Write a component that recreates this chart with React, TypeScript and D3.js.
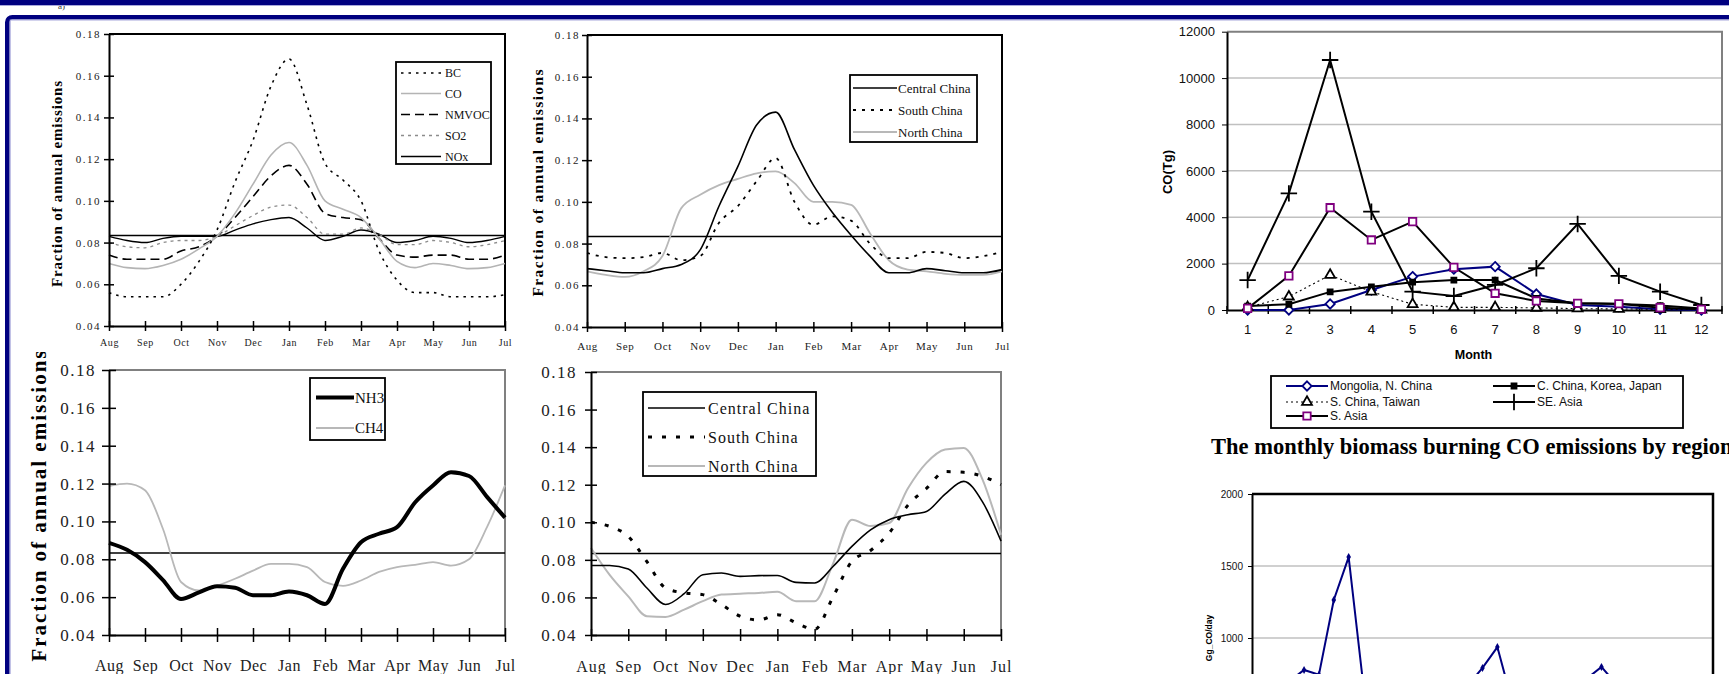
import * as d3 from "d3";
import React, { useEffect, useRef } from "react";

const WIDTH = 1729;
const HEIGHT = 674;
const SERIF = "'Liberation Serif', 'Times New Roman', serif";
const SANS = "'Liberation Sans', Arial, sans-serif";

// seasonal profiles, read twice a month from Aug to Jul
const MONTHS = ["Aug", "Sep", "Oct", "Nov", "Dec", "Jan", "Feb", "Mar", "Apr", "May", "Jun", "Jul"];
const STEPS = d3.range(0, 11.5, 0.5);
const FRACTION_TICKS = [0.04, 0.06, 0.08, 0.1, 0.12, 0.14, 0.16, 0.18];
const EVEN_SHARE = 1 / 12;

const BC = [0.056, 0.054, 0.054, 0.054, 0.06, 0.071, 0.086, 0.109, 0.129, 0.155, 0.168, 0.146, 0.118, 0.11, 0.1, 0.076, 0.062, 0.056, 0.056, 0.054, 0.054, 0.054, 0.055];
const CO = [0.07, 0.068, 0.0675, 0.069, 0.072, 0.077, 0.083, 0.094, 0.108, 0.122, 0.128, 0.117, 0.1, 0.096, 0.092, 0.082, 0.071, 0.068, 0.07, 0.069, 0.0675, 0.068, 0.07];
const NMVOC = [0.074, 0.072, 0.072, 0.072, 0.076, 0.078, 0.083, 0.092, 0.102, 0.112, 0.117, 0.108, 0.094, 0.092, 0.091, 0.082, 0.074, 0.073, 0.074, 0.074, 0.072, 0.072, 0.074];
const SO2 = [0.08, 0.078, 0.0775, 0.08, 0.081, 0.081, 0.083, 0.088, 0.093, 0.097, 0.098, 0.092, 0.084, 0.084, 0.087, 0.084, 0.079, 0.079, 0.081, 0.08, 0.078, 0.079, 0.081];
const NOX = [0.083, 0.081, 0.08, 0.082, 0.083, 0.083, 0.083, 0.086, 0.089, 0.091, 0.092, 0.087, 0.081, 0.083, 0.086, 0.084, 0.08, 0.081, 0.083, 0.082, 0.08, 0.081, 0.083];

const CENTRAL_HEATING = [0.068, 0.067, 0.066, 0.066, 0.068, 0.07, 0.077, 0.098, 0.117, 0.137, 0.143, 0.125, 0.108, 0.095, 0.084, 0.074, 0.066, 0.066, 0.068, 0.067, 0.066, 0.066, 0.0675];
const SOUTH_HEATING = [0.0755, 0.0735, 0.073, 0.0735, 0.0755, 0.072, 0.074, 0.09, 0.098, 0.11, 0.121, 0.1, 0.089, 0.093, 0.091, 0.08, 0.073, 0.073, 0.076, 0.0755, 0.073, 0.074, 0.076];
const NORTH_HEATING = [0.0667, 0.065, 0.064, 0.0667, 0.074, 0.097, 0.1034, 0.108, 0.111, 0.1137, 0.1146, 0.109, 0.1, 0.1, 0.0986, 0.085, 0.072, 0.0675, 0.0667, 0.0655, 0.065, 0.065, 0.0667];

const NH3 = [0.0887, 0.085, 0.0785, 0.069, 0.059, 0.0625, 0.0658, 0.065, 0.061, 0.061, 0.063, 0.061, 0.0564, 0.075, 0.089, 0.0935, 0.097, 0.11, 0.119, 0.126, 0.124, 0.113, 0.102];
const CH4 = [0.1187, 0.12, 0.1165, 0.096, 0.068, 0.0635, 0.066, 0.0697, 0.074, 0.0776, 0.0776, 0.0759, 0.068, 0.066, 0.0688, 0.0733, 0.0759, 0.077, 0.0785, 0.0767, 0.08, 0.097, 0.119];

const CENTRAL_FARMING = [0.077, 0.077, 0.0751, 0.065, 0.0562, 0.062, 0.0721, 0.073, 0.0712, 0.0716, 0.0717, 0.068, 0.0677, 0.0766, 0.0872, 0.096, 0.1014, 0.104, 0.1058, 0.115, 0.1218, 0.111, 0.09];
const SOUTH_FARMING = [0.1, 0.0978, 0.0925, 0.079, 0.065, 0.0624, 0.0615, 0.0562, 0.05, 0.048, 0.0508, 0.0465, 0.043, 0.0606, 0.0792, 0.085, 0.0943, 0.109, 0.118, 0.127, 0.1266, 0.1245, 0.12];
const NORTH_FARMING = [0.0863, 0.072, 0.0606, 0.05, 0.0496, 0.0535, 0.058, 0.0615, 0.062, 0.0624, 0.063, 0.058, 0.058, 0.0783, 0.1014, 0.098, 0.0996, 0.118, 0.1316, 0.1387, 0.1396, 0.123, 0.0934];

// biomass burning CO by region (month 1..12)
const REGION_MONTHS = [1, 2, 3, 4, 5, 6, 7, 8, 9, 10, 11, 12];
const CO_TICKS = [0, 2000, 4000, 6000, 8000, 10000, 12000];
const MONGOLIA = [0, 0, 260, 860, 1440, 1760, 1870, 690, 215, 145, 30, 0];
const C_CHINA = [170, 245, 780, 1000, 1200, 1290, 1290, 500, 290, 260, 190, 60];
const S_CHINA = [115, 575, 1510, 790, 245, 115, 115, 90, 60, 45, 30, 15];
const SE_ASIA = [1290, 5030, 10780, 4240, 790, 600, 1080, 1800, 3710, 1470, 790, 215];
const S_ASIA = [70, 1470, 4410, 3020, 3810, 1840, 720, 390, 290, 270, 100, 30];

// daily CO (only the upper part is visible on the slide)
const DAYS = d3.range(1, 32);
const DAILY_TICKS = [1000, 1500, 2000];
const DAILY_CO = [600, 650, 700, 778, 745, 1264, 1562, 660, 520, 480, 450, 470, 500, 560, 670, 792, 937, 553, 480, 460, 500, 600, 717, 799, 680, 560, 500, 450, 420, 400, 380];

const symbolOr = (name, fallback) => (d3 as any)[name] || fallback;

const SEASON_PANELS = [
    {
        left: 109, right: 505, top: 34, bottom: 326, frame: "#000",
        tick: 5, yPad: 3, tickFont: 11, tickSpacing: 1.5,
        monthFont: 10, monthSpacing: 0.6, monthBaseline: 346,
        title: { x: 57, cy: 184, length: 206, font: 15 },
        legend: { box: [396, 62, 95, 102], line: [401, 441], text: 445, rows: [73, 93.5, 114.5, 135.5, 156.5], font: 12, spacing: 0 },
        series: [
            { name: "BC", values: BC, stroke: "#000", width: 1.6, dash: "2.5,5" },
            { name: "CO", values: CO, stroke: "#b4b4b4", width: 1.6 },
            { name: "NMVOC", values: NMVOC, stroke: "#000", width: 1.6, dash: "9,5" },
            { name: "SO2", values: SO2, stroke: "#8c8c8c", width: 1.3, dash: "3,4" },
            { name: "NOx", values: NOX, stroke: "#000", width: 1.4 },
        ],
    },
    {
        left: 587, right: 1002, top: 35, bottom: 327, frame: "#000",
        tick: 5, yPad: 2, tickFont: 11, tickSpacing: 1.5,
        monthFont: 11, monthSpacing: 0.6, monthBaseline: 350,
        title: { x: 538, cy: 183, length: 227, font: 15.5 },
        legend: { box: [850, 75, 127, 67], line: [853, 897], text: 898, rows: [88, 110, 132], font: 13, spacing: 0 },
        series: [
            { name: "Central China", values: CENTRAL_HEATING, stroke: "#000", width: 1.6 },
            { name: "South China", values: SOUTH_HEATING, stroke: "#000", width: 1.8, dash: "3,6" },
            { name: "North China", values: NORTH_HEATING, stroke: "#b8b8b8", width: 1.8 },
        ],
    },
    {
        left: 109, right: 505, top: 370, bottom: 635, frame: "#808080",
        tick: 7, yPad: 6, tickFont: 17, tickSpacing: 1.5,
        monthFont: 16, monthSpacing: 0.5, monthBaseline: 671,
        title: { x: 39, cy: 506, length: 311, font: 21, clipTop: 352 },
        legend: { box: [310, 378, 75, 62], line: [316, 354], text: 355, rows: [397.5, 428], font: 15, spacing: 0 },
        series: [
            { name: "NH3", values: NH3, stroke: "#000", width: 4 },
            { name: "CH4", values: CH4, stroke: "#b8b8b8", width: 1.8 },
        ],
    },
    {
        left: 591, right: 1001, top: 372, bottom: 635, frame: "#808080",
        tick: 6, yPad: 8, tickFont: 17, tickSpacing: 1.5,
        monthFont: 16, monthSpacing: 1, monthBaseline: 672,
        title: null,
        legend: { box: [643, 392, 173, 84], line: [648, 705], text: 708, rows: [408, 437, 466], font: 16, spacing: 1 },
        series: [
            { name: "Central China", values: CENTRAL_FARMING, stroke: "#000", width: 1.6 },
            { name: "South China", values: SOUTH_FARMING, stroke: "#000", width: 3, dash: "4,10" },
            { name: "North China", values: NORTH_FARMING, stroke: "#b8b8b8", width: 2 },
        ],
    },
];

const REGION_SERIES = [
    { name: "Mongolia, N. China", values: MONGOLIA, stroke: "#000080", width: 2, symbol: symbolOr("symbolDiamond2", d3.symbolDiamond), size: 55, mark: "#000080", fill: "#fff" },
    { name: "C. China, Korea, Japan", values: C_CHINA, stroke: "#000", width: 2, symbol: d3.symbolSquare, size: 25, mark: "#000", fill: "#000" },
    { name: "S. China, Taiwan", values: S_CHINA, stroke: "#000", width: 1.1, dash: "2,3", symbol: symbolOr("symbolTriangle2", d3.symbolTriangle), size: 70, mark: "#000", fill: "#fff" },
    { name: "SE. Asia", values: SE_ASIA, stroke: "#000", width: 2, symbol: symbolOr("symbolPlus", d3.symbolCross), size: 90, mark: "#000", fill: "none" },
    { name: "S. Asia", values: S_ASIA, stroke: "#000", width: 2, symbol: symbolOr("symbolSquare2", d3.symbolSquare), size: 70, mark: "#800080", fill: "#fff" },
];

function drawSeasonPanel(svg, p, idx) {
    const g = svg.append("g");
    const x = d3.scaleLinear().domain([0, 11]).range([p.left, p.right]);
    const xMonth = d3.scalePoint().domain(MONTHS).range([p.left, p.right]);
    const y = d3.scaleLinear().domain([0.04, 0.18]).range([p.bottom, p.top]);

    g.append("path")
        .attr("d", `M${p.left},${p.top}H${p.right}V${p.bottom}`)
        .attr("fill", "none")
        .attr("stroke", p.frame)
        .attr("stroke-width", 2);

    g.append("line")
        .attr("x1", p.left)
        .attr("x2", p.right)
        .attr("y1", y(EVEN_SHARE))
        .attr("y2", y(EVEN_SHARE))
        .attr("stroke", "#000")
        .attr("stroke-width", 1.5);

    const line = d3
        .line()
        .x((_, i) => x(STEPS[i]))
        .y((d) => y(d))
        .curve(d3.curveMonotoneX);

    g.selectAll(null)
        .data(p.series.slice().reverse())
        .enter()
        .append("path")
        .attr("d", (d) => line(d.values))
        .attr("fill", "none")
        .attr("stroke", (d) => d.stroke)
        .attr("stroke-width", (d) => d.width)
        .attr("stroke-dasharray", (d) => d.dash || null)
        .attr("stroke-linejoin", "round");

    const yAxis = g
        .append("g")
        .attr("transform", `translate(${p.left},0)`)
        .call(
            d3.axisLeft(y).tickValues(FRACTION_TICKS).tickFormat(d3.format(".2f"))
                .tickSizeInner(p.tick).tickSizeOuter(0).tickPadding(p.yPad)
        );
    yAxis.attr("font-family", SERIF).attr("font-size", p.tickFont);
    yAxis.select(".domain").attr("stroke-width", 2);
    yAxis.selectAll(".tick line").attr("x1", p.tick).attr("stroke-width", 1.5);
    yAxis.selectAll("text").attr("fill", "#222").attr("letter-spacing", p.tickSpacing);

    const xAxis = g
        .append("g")
        .attr("transform", `translate(0,${p.bottom})`)
        .call(d3.axisBottom(xMonth).tickSizeInner(p.tick).tickSizeOuter(0));
    xAxis.attr("font-family", SERIF).attr("font-size", p.monthFont);
    xAxis.select(".domain").attr("stroke-width", 2);
    xAxis.selectAll(".tick line").attr("y1", -p.tick).attr("stroke-width", 1.5);
    xAxis.selectAll("text")
        .attr("y", p.monthBaseline - p.bottom)
        .attr("dy", 0)
        .attr("fill", "#222")
        .attr("letter-spacing", p.monthSpacing);

    if (p.title) {
        const holder = g.append("g");
        if (p.title.clipTop) {
            svg.select("defs")
                .append("clipPath")
                .attr("id", `title-clip-${idx}`)
                .append("rect")
                .attr("x", 0)
                .attr("y", p.title.clipTop)
                .attr("width", p.left)
                .attr("height", HEIGHT);
            holder.attr("clip-path", `url(#title-clip-${idx})`);
        }
        holder.append("text")
            .attr("transform", `translate(${p.title.x},${p.title.cy}) rotate(-90)`)
            .attr("text-anchor", "middle")
            .attr("dy", "0.35em")
            .attr("font-family", SERIF)
            .attr("font-weight", "bold")
            .attr("font-size", p.title.font)
            .attr("textLength", p.title.length)
            .attr("lengthAdjust", "spacing")
            .text("Fraction of annual emissions");
    }

    const lg = p.legend;
    g.append("rect")
        .attr("x", lg.box[0])
        .attr("y", lg.box[1])
        .attr("width", lg.box[2])
        .attr("height", lg.box[3])
        .attr("fill", "#fff")
        .attr("stroke", "#000")
        .attr("stroke-width", 1.8);

    const rows = g
        .selectAll(null)
        .data(p.series)
        .enter()
        .append("g")
        .attr("transform", (d, i) => `translate(0,${lg.rows[i]})`);
    rows.append("line")
        .attr("x1", lg.line[0])
        .attr("x2", lg.line[1])
        .attr("stroke", (d) => d.stroke)
        .attr("stroke-width", (d) => d.width)
        .attr("stroke-dasharray", (d) => d.dash || null);
    rows.append("text")
        .attr("x", lg.text)
        .attr("dy", "0.35em")
        .attr("font-family", SERIF)
        .attr("font-size", lg.font)
        .attr("letter-spacing", lg.spacing)
        .attr("fill", "#111")
        .text((d) => d.name);
}

function drawRegionPanel(svg) {
    const L = 1227, R = 1722, T = 31.7, B = 310;
    const g = svg.append("g");
    const x = d3.scaleBand().domain(REGION_MONTHS).range([L, R]);
    const cx = (m) => x(m) + x.bandwidth() / 2;
    const y = d3.scaleLinear().domain([0, 12000]).range([B, T]);

    g.selectAll(null)
        .data(CO_TICKS.slice(1, -1))
        .enter()
        .append("line")
        .attr("x1", L)
        .attr("x2", R)
        .attr("y1", (d) => y(d))
        .attr("y2", (d) => y(d))
        .attr("stroke", "#c0c0c0")
        .attr("stroke-width", 1.5);

    g.append("path")
        .attr("d", `M${L},${y(12000)}H${R}V${B}`)
        .attr("fill", "none")
        .attr("stroke", "#808080")
        .attr("stroke-width", 2);

    const yAxis = g
        .append("g")
        .attr("transform", `translate(${L},0)`)
        .call(d3.axisLeft(y).tickValues(CO_TICKS).tickFormat(d3.format("d")).tickSizeInner(5).tickSizeOuter(0).tickPadding(7));
    yAxis.attr("font-family", SANS).attr("font-size", 13);
    yAxis.select(".domain").attr("stroke-width", 2);
    yAxis.selectAll("text").attr("fill", "#111");

    const xAxis = g
        .append("g")
        .attr("transform", `translate(0,${B})`)
        .call(d3.axisBottom(x).tickSize(0).tickSizeOuter(0));
    xAxis.attr("font-family", SANS).attr("font-size", 13);
    xAxis.select(".domain").attr("stroke-width", 2);
    xAxis.selectAll("text").attr("y", 24).attr("dy", 0).attr("fill", "#111");
    xAxis.selectAll(null)
        .data(d3.range(0, REGION_MONTHS.length + 1))
        .enter()
        .append("line")
        .attr("x1", (i) => L + i * x.step())
        .attr("x2", (i) => L + i * x.step())
        .attr("y1", -4)
        .attr("y2", 4)
        .attr("stroke", "#000")
        .attr("stroke-width", 1.5);

    g.append("text")
        .attr("x", (L + R) / 2 - 1)
        .attr("y", 359)
        .attr("text-anchor", "middle")
        .attr("font-family", SANS)
        .attr("font-weight", "bold")
        .attr("font-size", 12.5)
        .text("Month");

    g.append("text")
        .attr("transform", `translate(1167,172) rotate(-90)`)
        .attr("text-anchor", "middle")
        .attr("dy", "0.35em")
        .attr("font-family", SANS)
        .attr("font-weight", "bold")
        .attr("font-size", 13)
        .text("CO(Tg)");

    const line = d3
        .line()
        .x((_, i) => cx(REGION_MONTHS[i]))
        .y((d) => y(d));

    g.selectAll(null)
        .data(REGION_SERIES)
        .enter()
        .append("path")
        .attr("d", (d) => line(d.values))
        .attr("fill", "none")
        .attr("stroke", (d) => d.stroke)
        .attr("stroke-width", (d) => d.width)
        .attr("stroke-dasharray", (d) => d.dash || null);

    REGION_SERIES.forEach((s) => {
        g.selectAll(null)
            .data(s.values)
            .enter()
            .append("path")
            .attr("transform", (d, i) => `translate(${cx(REGION_MONTHS[i])},${y(d)})`)
            .attr("d", d3.symbol(s.symbol, s.size)())
            .attr("fill", s.fill)
            .attr("stroke", s.mark)
            .attr("stroke-width", 1.8);
    });

    // legend
    const slots = [[1286, 386], [1493, 386], [1286, 402], [1493, 402], [1286, 416]];
    g.append("rect")
        .attr("x", 1271)
        .attr("y", 376)
        .attr("width", 412)
        .attr("height", 52)
        .attr("fill", "#fff")
        .attr("stroke", "#000")
        .attr("stroke-width", 1.8);
    const items = g
        .selectAll(null)
        .data(REGION_SERIES)
        .enter()
        .append("g")
        .attr("transform", (d, i) => `translate(${slots[i][0]},${slots[i][1]})`);
    items.append("line")
        .attr("x2", 42)
        .attr("stroke", (d) => d.stroke)
        .attr("stroke-width", (d) => d.width)
        .attr("stroke-dasharray", (d) => d.dash || null);
    items.append("path")
        .attr("transform", "translate(21,0)")
        .attr("d", (d) => d3.symbol(d.symbol, d.size)())
        .attr("fill", (d) => d.fill)
        .attr("stroke", (d) => d.mark)
        .attr("stroke-width", 1.8);
    items.append("text")
        .attr("x", 44)
        .attr("dy", "0.35em")
        .attr("font-family", SANS)
        .attr("font-size", 12)
        .attr("fill", "#111")
        .text((d) => d.name);

    // the slide cuts this caption at its right edge
    g.append("text")
        .attr("x", 1211)
        .attr("y", 454)
        .attr("font-family", SERIF)
        .attr("font-weight", "bold")
        .attr("font-size", 22.5)
        .text("The monthly biomass burning CO emissions by region");
}

function drawDailyPanel(svg) {
    const L = 1252, R = 1713, T = 494;
    const g = svg.append("g");
    const x = d3.scaleBand().domain(DAYS).range([L, R]);
    const cx = (d) => x(d) + x.bandwidth() / 2;
    const y = d3.scaleLinear().domain([0, 2000]).range([T + 288, T]);

    g.selectAll(null)
        .data(DAILY_TICKS.slice(0, -1))
        .enter()
        .append("line")
        .attr("x1", L)
        .attr("x2", R)
        .attr("y1", (d) => y(d))
        .attr("y2", (d) => y(d))
        .attr("stroke", "#c0c0c0")
        .attr("stroke-width", 1.5);

    g.append("path")
        .attr("d", `M${L},${T}H${R}V${HEIGHT + 10}`)
        .attr("fill", "none")
        .attr("stroke", "#000")
        .attr("stroke-width", 2.5);

    const yAxis = g
        .append("g")
        .attr("transform", `translate(${L},0)`)
        .call(d3.axisLeft(y).tickValues(DAILY_TICKS).tickFormat(d3.format("d")).tickSizeInner(4).tickSizeOuter(0).tickPadding(5));
    yAxis.attr("font-family", SANS).attr("font-size", 10);
    yAxis.select(".domain").attr("stroke-width", 2);
    yAxis.selectAll("text").attr("fill", "#111");

    g.append("text")
        .attr("transform", `translate(1209,638) rotate(-90)`)
        .attr("text-anchor", "middle")
        .attr("dy", "0.35em")
        .attr("font-family", SANS)
        .attr("font-weight", "bold")
        .attr("font-size", 8.5)
        .text("Gg_CO/day");

    const line = d3
        .line()
        .x((_, i) => cx(DAYS[i]))
        .y((d) => y(d));
    g.append("path")
        .attr("d", line(DAILY_CO))
        .attr("fill", "none")
        .attr("stroke", "#000080")
        .attr("stroke-width", 2);
    g.selectAll(null)
        .data(DAILY_CO)
        .enter()
        .append("path")
        .attr("transform", (d, i) => `translate(${cx(DAYS[i])},${y(d)})`)
        .attr("d", d3.symbol(d3.symbolDiamond, 18)())
        .attr("fill", "#000080");
}

function drawFrame(svg) {
    const navy = "#000080";
    const edge = "#a8a8dc";
    svg.append("rect").attr("x", 0).attr("y", 0).attr("width", WIDTH).attr("height", 5).attr("fill", navy);
    svg.append("line").attr("x1", 0).attr("x2", WIDTH).attr("y1", 5.5).attr("y2", 5.5).attr("stroke", edge);
    svg.append("rect")
        .attr("x", 7.3)
        .attr("y", 17.2)
        .attr("width", WIDTH + 20)
        .attr("height", HEIGHT + 20)
        .attr("rx", 5)
        .attr("fill", "none")
        .attr("stroke", navy)
        .attr("stroke-width", 4.6);
    svg.append("rect")
        .attr("x", 10.2)
        .attr("y", 20)
        .attr("width", WIDTH + 20)
        .attr("height", HEIGHT + 20)
        .attr("fill", "none")
        .attr("stroke", edge)
        .attr("stroke-width", 1);
}

export default function App() {
    const wrapper = useRef(null);

    useEffect(() => {
        const svg = d3.select(wrapper.current);
        svg.selectAll("*").remove();
        svg.append("defs");
        svg.append("rect").attr("width", WIDTH).attr("height", HEIGHT).attr("fill", "#fff");
        svg.append("text")
            .attr("x", 58)
            .attr("y", 9)
            .attr("font-family", SERIF)
            .attr("font-size", 9)
            .attr("fill", "#333")
            .text("a)");
        SEASON_PANELS.forEach((p, i) => drawSeasonPanel(svg, p, i));
        drawRegionPanel(svg);
        drawDailyPanel(svg);
        drawFrame(svg);
    }, []);

    return (
        <svg
            ref={wrapper}
            width={WIDTH}
            height={HEIGHT}
            style={{ position: "absolute", left: 0, top: 0, display: "block" }}
        />
    );
}
